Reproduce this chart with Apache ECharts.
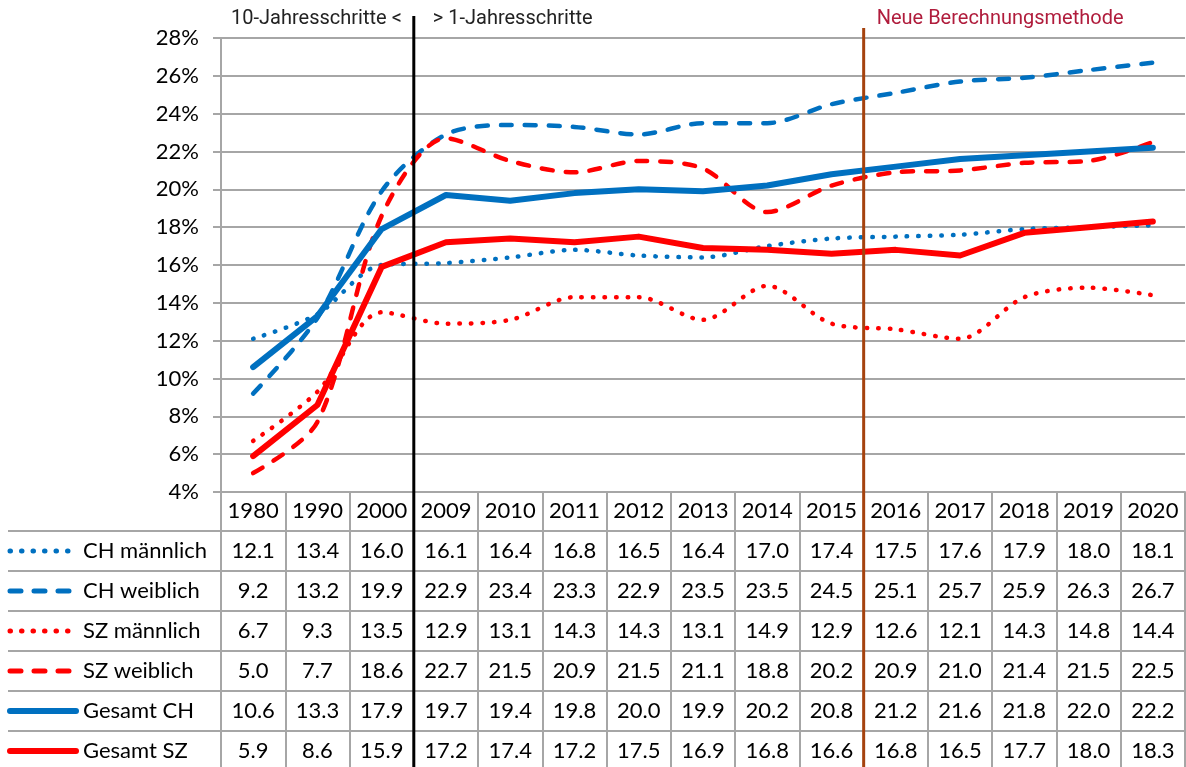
<!DOCTYPE html>
<html>
<head>
<meta charset="utf-8">
<script src="https://cdn.jsdelivr.net/npm/echarts@6/dist/echarts.min.js"></script>
<style>
  html, body { margin: 0; padding: 0; background: #fff; }
  #chart { width: 1186px; height: 767px; }
</style>
</head>
<body>
<div id="chart"></div>
<script>
// Jahre (erst 10er-Schritte, dann Einzeljahre)
const years = ['1980', '1990', '2000', '2009', '2010', '2011', '2012', '2013', '2014', '2015', '2016', '2017', '2018', '2019', '2020'];

// Werte in %
const chMaennlich = [12.1, 13.4, 16.0, 16.1, 16.4, 16.8, 16.5, 16.4, 17.0, 17.4, 17.5, 17.6, 17.9, 18.0, 18.1];
const chWeiblich  = [9.2, 13.2, 19.9, 22.9, 23.4, 23.3, 22.9, 23.5, 23.5, 24.5, 25.1, 25.7, 25.9, 26.3, 26.7];
const szMaennlich = [6.7, 9.3, 13.5, 12.9, 13.1, 14.3, 14.3, 13.1, 14.9, 12.9, 12.6, 12.1, 14.3, 14.8, 14.4];
const szWeiblich  = [5.0, 7.7, 18.6, 22.7, 21.5, 20.9, 21.5, 21.1, 18.8, 20.2, 20.9, 21.0, 21.4, 21.5, 22.5];
const gesamtCH    = [10.6, 13.3, 17.9, 19.7, 19.4, 19.8, 20.0, 19.9, 20.2, 20.8, 21.2, 21.6, 21.8, 22.0, 22.2];
const gesamtSZ    = [5.9, 8.6, 15.9, 17.2, 17.4, 17.2, 17.5, 16.9, 16.8, 16.6, 16.8, 16.5, 17.7, 18.0, 18.3];

const seriesNames = ['CH männlich', 'CH weiblich', 'SZ männlich', 'SZ weiblich', 'Gesamt CH', 'Gesamt SZ'];
const seriesData = [chMaennlich, chWeiblich, szMaennlich, szWeiblich, gesamtCH, gesamtSZ];

const BLUE = '#0070C0';
const RED = '#FF0000';
const GRID_COLOR = '#a6a6a6';
const FONT = 'Lato, "Open Sans", sans-serif';

// Linienstile pro Reihe
const styles = [
    { color: BLUE, width: 4.5, type: [0.5, 11], smooth: 0.3 },
    { color: BLUE, width: 4.5, type: [11, 13], smooth: 0.3 },
    { color: RED, width: 4.5, type: [0.5, 11], smooth: 0.3 },
    { color: RED, width: 4.5, type: [11, 13], smooth: 0.3 },
    { color: BLUE, width: 6, type: 'solid', smooth: false },
    { color: RED, width: 6, type: 'solid', smooth: false }
];

const chart = echarts.init(document.getElementById('chart'));

// Tabellenzeilen als zusätzliche x-Achsen unter dem Diagramm
const tableAxes = seriesData.map((vals, i) => ({
    type: 'category',
    gridIndex: 0,
    position: 'bottom',
    offset: 40 * (i + 1),
    data: vals.map(v => v.toFixed(1)),
    axisLine: { show: false },
    axisTick: { show: false },
    splitLine: { show: false },
    axisLabel: { interval: 0, margin: 8, fontSize: 22, color: '#000', fontFamily: FONT }
}));

const option = {
    animation: false,
    backgroundColor: '#fff',
    grid: { left: 221, right: 1, top: 38, bottom: 275, containLabel: false },
    xAxis: [{
        type: 'category',
        data: years,
        boundaryGap: true,
        axisLine: { lineStyle: { color: GRID_COLOR, width: 2 } },
        axisTick: { show: true, interval: 0, length: 275, lineStyle: { color: GRID_COLOR, width: 2 } },
        axisLabel: { interval: 0, margin: 8, fontSize: 22, color: '#000', fontFamily: FONT },
        splitLine: { show: false }
    }].concat(tableAxes),
    yAxis: {
        type: 'value',
        min: 4,
        max: 28,
        interval: 2,
        axisLine: { show: true, lineStyle: { color: GRID_COLOR, width: 2 } },
        axisTick: { show: true, length: 8, lineStyle: { color: GRID_COLOR, width: 2 } },
        axisLabel: { formatter: '{value}%', margin: 22, fontSize: 22, color: '#000', fontFamily: FONT },
        splitLine: { lineStyle: { color: GRID_COLOR, width: 2 } }
    },
    series: seriesData.map((vals, i) => ({
        name: seriesNames[i],
        type: 'line',
        xAxisIndex: 0,
        data: vals,
        symbol: 'none',
        smooth: styles[i].smooth,
        lineStyle: {
            color: styles[i].color,
            width: styles[i].width,
            type: styles[i].type,
            cap: 'round',
            join: 'round'
        },
        z: 3 + i
    }))
};

chart.setOption(option);

// Trennlinien, Beschriftungen und Legende der Tabelle
function drawExtras() {
    const px = i => chart.convertToPixel({ xAxisIndex: 0 }, years[i]);
    const bottomY = chart.convertToPixel({ yAxisIndex: 0 }, 4);
    const blackX = (px(2) + px(3)) / 2;
    const brownX = (px(9) + px(10)) / 2;
    const elements = [];

    // horizontale Tabellenlinien
    for (let k = 0; k < seriesNames.length; k++) {
        const y = bottomY + 39 + 40 * k;
        elements.push({
            type: 'line', z: 1,
            shape: { x1: 8, y1: y, x2: 1186, y2: y },
            style: { stroke: GRID_COLOR, lineWidth: 2 }
        });
        // Legendenlinie
        const cy = bottomY + 59 + 40 * k;
        const st = styles[k];
        const solid = st.type === 'solid';
        elements.push({
            type: 'line', z: 10,
            shape: { x1: 10, y1: cy, x2: solid ? 76 : 72, y2: cy },
            style: {
                stroke: st.color,
                lineWidth: solid ? st.width : 5,
                lineCap: 'round',
                lineDash: solid ? null : st.type
            }
        });
        elements.push({
            type: 'text', z: 10,
            x: 83, y: cy,
            style: {
                text: seriesNames[k], fontSize: 22, fontFamily: FONT,
                fill: '#000', align: 'left', verticalAlign: 'middle'
            }
        });
    }

    // schwarze Trennlinie 10-/1-Jahresschritte
    elements.push({
        type: 'line', z: 20,
        shape: { x1: blackX, y1: 16, x2: blackX, y2: 767 },
        style: { stroke: '#000', lineWidth: 3 }
    });
    // braune Linie neue Methode
    elements.push({
        type: 'line', z: 20,
        shape: { x1: brownX, y1: 28, x2: brownX, y2: 767 },
        style: { stroke: '#a5420e', lineWidth: 3 }
    });

    const headFont = '"Liberation Sans Narrow", Roboto, sans-serif';
    elements.push({
        type: 'text', z: 20, x: blackX - 12, y: 19,
        style: { text: '10-Jahresschritte <', fontSize: 20, fontFamily: headFont, fill: '#222', align: 'right', verticalAlign: 'middle' }
    });
    elements.push({
        type: 'text', z: 20, x: blackX + 19, y: 19,
        style: { text: '> 1-Jahresschritte', fontSize: 20, fontFamily: headFont, fill: '#222', align: 'left', verticalAlign: 'middle' }
    });
    elements.push({
        type: 'text', z: 20, x: brownX + 13, y: 19,
        style: { text: 'Neue Berechnungsmethode', fontSize: 20, fontFamily: headFont, fill: '#b01c3c', align: 'left', verticalAlign: 'middle' }
    });

    chart.setOption({ graphic: { elements: elements } });
}

drawExtras();
</script>
</body>
</html>
